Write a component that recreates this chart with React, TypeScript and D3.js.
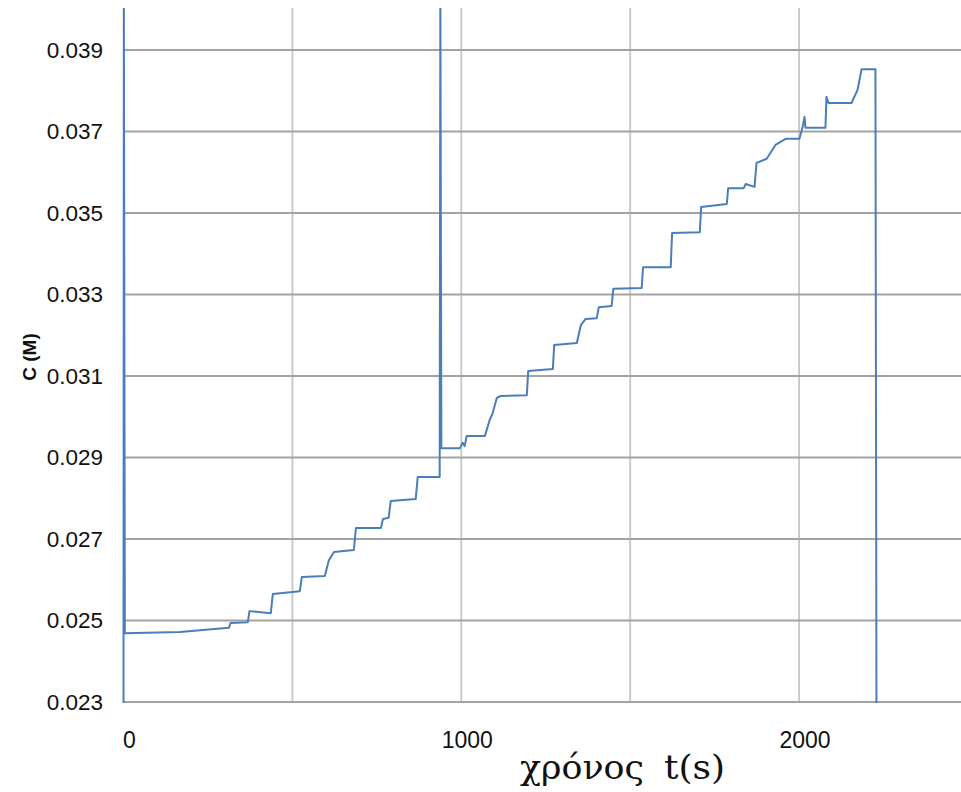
import React from "react";
import * as d3 from "d3";

const timeS: number[] = [0, 1, 4, 167, 312, 317, 368, 373, 436, 442, 522, 528, 596, 608, 623, 682, 688, 762, 768, 785, 791, 865, 871, 936, 938, 941, 996, 1004, 1010, 1016, 1070, 1084, 1093, 1105, 1117, 1194, 1198, 1271, 1275, 1342, 1354, 1368, 1401, 1407, 1445, 1450, 1534, 1538, 1620, 1624, 1706, 1710, 1786, 1790, 1836, 1842, 1868, 1874, 1904, 1930, 1960, 2001, 2010, 2016, 2019, 2078, 2081, 2087, 2155, 2173, 2185, 2226, 2229];
const concM: number[] = [0.0229, 0.0406, 0.02469, 0.02472, 0.02482, 0.02494, 0.02496, 0.02523, 0.02518, 0.02565, 0.02572, 0.02607, 0.02609, 0.02648, 0.02668, 0.02673, 0.02727, 0.02727, 0.02749, 0.02752, 0.02793, 0.02798, 0.02852, 0.02852, 0.0406, 0.02923, 0.02923, 0.02936, 0.02928, 0.02953, 0.02953, 0.02992, 0.03009, 0.03046, 0.03051, 0.03053, 0.03112, 0.03117, 0.03176, 0.03181, 0.03225, 0.0324, 0.03242, 0.03269, 0.03272, 0.03314, 0.03316, 0.03367, 0.03367, 0.03451, 0.03453, 0.03515, 0.03522, 0.03561, 0.03561, 0.03571, 0.03564, 0.03623, 0.03633, 0.03667, 0.03682, 0.03682, 0.03709, 0.03736, 0.03709, 0.03709, 0.03785, 0.0377, 0.0377, 0.03802, 0.03853, 0.03853, 0.0229];

const yTicks: number[] = [0.023, 0.025, 0.027, 0.029, 0.031, 0.033, 0.035, 0.037, 0.039];
const xGrid: number[] = [500, 1000, 1500, 2000, 2500];
const xLabels: number[] = [0, 1000, 2000];
const xTitleWord = "χρόνος";
const xTitleUnit = "t(s)";
const yTitle = "C (M)";

export default function App() {
  const W = 961, H = 792;
  const left = 123.5, top = 8, bottom = 702;
  const x = d3.scaleLinear().domain([0, 2500]).range([left, left + 2500 * 0.3378]);
  const y = d3.scaleLinear().domain([0.023, 0.039]).range([bottom, 50]);
  const data = timeS.map((t, i) => [t, concM[i]] as [number, number]);
  const line = d3.line<[number, number]>().x(d => x(d[0])).y(d => y(d[1]));
  const serif = "'DejaVu Serif', 'Liberation Serif', 'Times New Roman', serif";
  return (
    <svg width={W} height={H} style={{ position: "absolute", left: 0, top: 0, background: "#fff" }}>
      <defs>
        <clipPath id="plot">
          <rect x={left - 2} y={top} width={W} height={bottom - top + 1} />
        </clipPath>
      </defs>
      {xGrid.map(t => (
        <line key={"v" + t} x1={x(t)} x2={x(t)} y1={top} y2={bottom} stroke="#c6c6c6" strokeWidth={1.8} />
      ))}
      {yTicks.map(v => (
        <line key={"h" + v} x1={left} x2={W} y1={y(v)} y2={y(v)} stroke="#a3a3a3" strokeWidth={1.8} />
      ))}
      {yTicks.map(v => (
        <text key={"yl" + v} x={103} y={y(v)} dy="0.35em" textAnchor="end" fontFamily="'Liberation Sans', Arial, sans-serif" fontSize={22.5} fill="#111">
          {v.toFixed(3)}
        </text>
      ))}
      {xLabels.map(t => (
        <text key={"xl" + t} x={x(t) + 6} y={748} textAnchor="middle" fontFamily="'Liberation Sans', Arial, sans-serif" fontSize={23} fill="#111">
          {t}
        </text>
      ))}
      <g clipPath="url(#plot)">
        <path d={line(data) || ""} fill="none" stroke="#4a7ebb" strokeWidth={2} strokeLinejoin="round" />
      </g>
      <text x={520} y={779} textAnchor="start" fontFamily={serif} fontSize={34} fill="#111" textLength={124} lengthAdjust="spacingAndGlyphs">
        {xTitleWord}
      </text>
      <text x={664} y={779} textAnchor="start" fontFamily={serif} fontSize={34} fill="#111" textLength={61} lengthAdjust="spacingAndGlyphs">
        {xTitleUnit}
      </text>
      <text transform={`translate(36, 357) rotate(-90)`} textAnchor="middle" fontFamily="'Liberation Sans', Arial, sans-serif" fontWeight="bold" fontSize={19} fill="#111">
        {yTitle}
      </text>
    </svg>
  );
}
